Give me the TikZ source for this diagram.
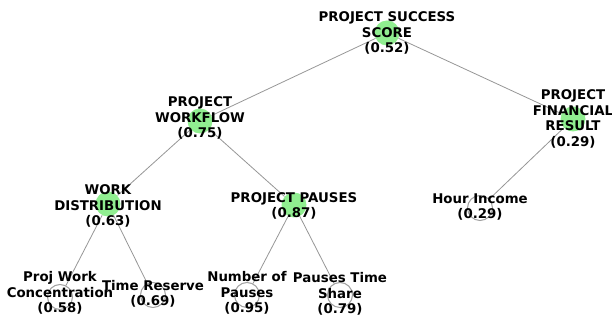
\documentclass[tikz,border=0pt]{standalone}
\usepackage{fontspec}
\setmainfont{DejaVu Sans}
\usepackage{tikz}

\begin{document}
\begin{tikzpicture}[x=0.75pt,y=0.75pt,yscale=-1,xscale=1]
	\tikzset{
		inner/.style={circle, fill={rgb,255:red,144;green,238;blue,144}, draw=none, minimum size=18.75pt, inner sep=0pt},
		leaf/.style={circle, fill=white, draw={rgb,255:red,160;green,160;blue,160}, line width=0.75pt, minimum size=18.75pt, inner sep=0pt},
		edge/.style={draw={rgb,255:red,150;green,150;blue,150}, line width=0.6pt},
		lbl/.style={inner sep=0pt, align=center, font=\bfseries\fontsize{10}{11.6}\selectfont}
	}
	\useasboundingbox (0,0) rectangle (612,320);
	
	%Circles
	\node [inner] (root) at (387,33) {};
	\node [inner] (wf) at (200,121) {};
	\node [inner] (fin) at (573,119) {};
	\node [inner] (dist) at (108,204) {};
	\node [inner] (paus) at (294,205) {};
	\node [leaf] (hour) at (480,208) {};
	\node [leaf] (pwc) at (60,297) {};
	\node [leaf] (tr) at (153,295) {};
	\node [leaf] (nop) at (247,295) {};
	\node [leaf] (pts) at (340,295) {};
	
	%Straight Lines
	\draw [edge] (root) -- (wf) ;
	\draw [edge] (root) -- (fin) ;
	\draw [edge] (wf) -- (dist) ;
	\draw [edge] (wf) -- (paus) ;
	\draw [edge] (fin) -- (hour) ;
	\draw [edge] (dist) -- (pwc) ;
	\draw [edge] (dist) -- (tr) ;
	\draw [edge] (paus) -- (nop) ;
	\draw [edge] (paus) -- (pts) ;
	
	% Text Node
	\node [lbl] (rootlbl) at (387,33) {PROJECT SUCCESS\\SCORE\\(0.52)};
	% Text Node
	\node [lbl] (wflbl) at (200,118) {PROJECT\\WORKFLOW\\(0.75)};
	% Text Node
	\node [lbl] (finlbl) at (573,119) {PROJECT\\FINANCIAL\\RESULT\\(0.29)};
	% Text Node
	\node [lbl] (distlbl) at (108,206) {WORK\\DISTRIBUTION\\(0.63)};
	% Text Node
	\node [lbl] (pauslbl) at (294,206) {PROJECT PAUSES\\(0.87)};
	% Text Node
	\node [lbl] (hourlbl) at (480,207) {Hour Income\\(0.29)};
	% Text Node
	\node [lbl] (pwclbl) at (60,293) {Proj Work\\Concentration\\(0.58)};
	% Text Node
	\node [lbl] (trlbl) at (153,294) {Time Reserve\\(0.69)};
	% Text Node
	\node [lbl] (noplbl) at (247,293) {Number of\\Pauses\\(0.95)};
	% Text Node
	\node [lbl] (ptslbl) at (340,294) {Pauses Time\\Share\\(0.79)};
	
\end{tikzpicture}
\end{document}
